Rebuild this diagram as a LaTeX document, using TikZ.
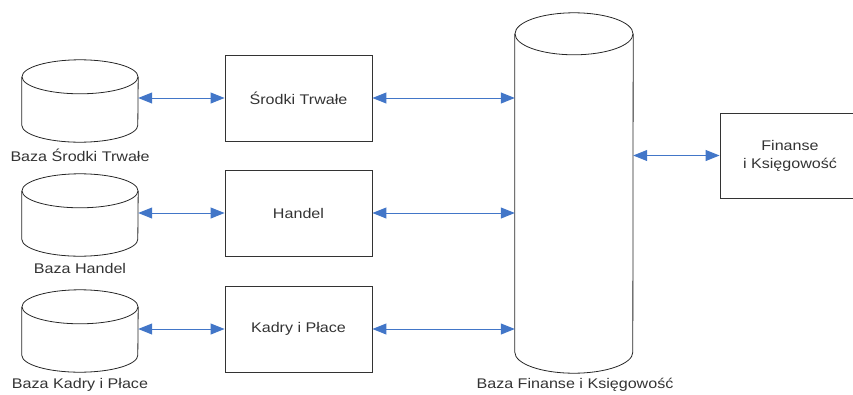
\documentclass[tikz,border=0pt]{standalone}
\usepackage{fontspec}
\setmainfont{Liberation Sans}[FakeStretch=1.15]
\usetikzlibrary{arrows.meta, positioning, calc}

\definecolor{linkblue}{RGB}{66,118,200}

\tikzset{
  modul/.style={draw=black!80, line width=0.9pt, inner sep=0pt,
    minimum width=147pt, minimum height=86pt, align=center,
    text=black!80, font=\fontsize{14}{18}\selectfont},
  baza/.style={inner sep=0pt},
  walec/.style={draw=black!85, line width=0.8pt},
  podpis/.style={text=black!80, font=\fontsize{14}{16}\selectfont},
  link/.style={linkblue, line width=1pt,
    {Triangle[length=14pt,width=11pt]}-{Triangle[length=14pt,width=11pt]}}
}

\begin{document}
\begin{tikzpicture}[x=1pt, y=-1pt]
\useasboundingbox (0,0) rectangle (853,394);

% Bazy
\node[baza, minimum width=116pt, minimum height=48pt] (dbST) at (80,101) {};
\node[baza, minimum width=116pt, minimum height=48pt] (dbH) at (80,215) {};
\node[baza, minimum width=116pt, minimum height=48pt] (dbKP) at (80,331) {};
\node[baza, minimum width=118pt, minimum height=318pt] (dbFK) at (574,193) {};

\draw[walec] (dbST.north west) -- (dbST.south west) arc[start angle=180, end angle=360, x radius=58pt, y radius=17pt] -- (dbST.north east);
\draw[walec] (dbST.north) ellipse[x radius=58pt, y radius=17pt];
\draw[walec] (dbH.north west) -- (dbH.south west) arc[start angle=180, end angle=360, x radius=58pt, y radius=17pt] -- (dbH.north east);
\draw[walec] (dbH.north) ellipse[x radius=58pt, y radius=17pt];
\draw[walec] (dbKP.north west) -- (dbKP.south west) arc[start angle=180, end angle=360, x radius=58pt, y radius=17pt] -- (dbKP.north east);
\draw[walec] (dbKP.north) ellipse[x radius=58pt, y radius=17pt];
\draw[walec] (dbFK.north west) -- (dbFK.south west) arc[start angle=180, end angle=360, x radius=59pt, y radius=21pt] -- (dbFK.north east);
\draw[walec] (dbFK.north) ellipse[x radius=59pt, y radius=21pt];

% Podpisy baz
\node[podpis] (lST) at (80,155) {Baza Środki Trwałe};
\node[podpis] (lH) at (80,268) {Baza Handel};
\node[podpis] (lKP) at (80,385) {Baza Kadry i Płace};
\node[podpis] (lFK) at (575,385) {Baza Finanse i Księgowość};

% Moduly
\node[modul] (mST) at (298.5,98) {Środki Trwałe};
\node[modul] (mH) at (298.5,213) {Handel};
\node[modul] (mKP) at (298.5,329) {Kadry i Płace};
\node[modul, minimum width=140pt, minimum height=85pt] (mFK) at (790,155.5) {Finanse\\i Księgowość};

% Polaczenia
\foreach \m/\d in {mST/dbST, mH/dbH, mKP/dbKP} {
  \draw[link] (\m.west -| \d.east) -- (\m.west);
  \draw[link] (\m.east) -- (\m.east -| dbFK.west);
}
\draw[link] (mFK.west -| dbFK.east) -- (mFK.west);
\end{tikzpicture}
\end{document}
